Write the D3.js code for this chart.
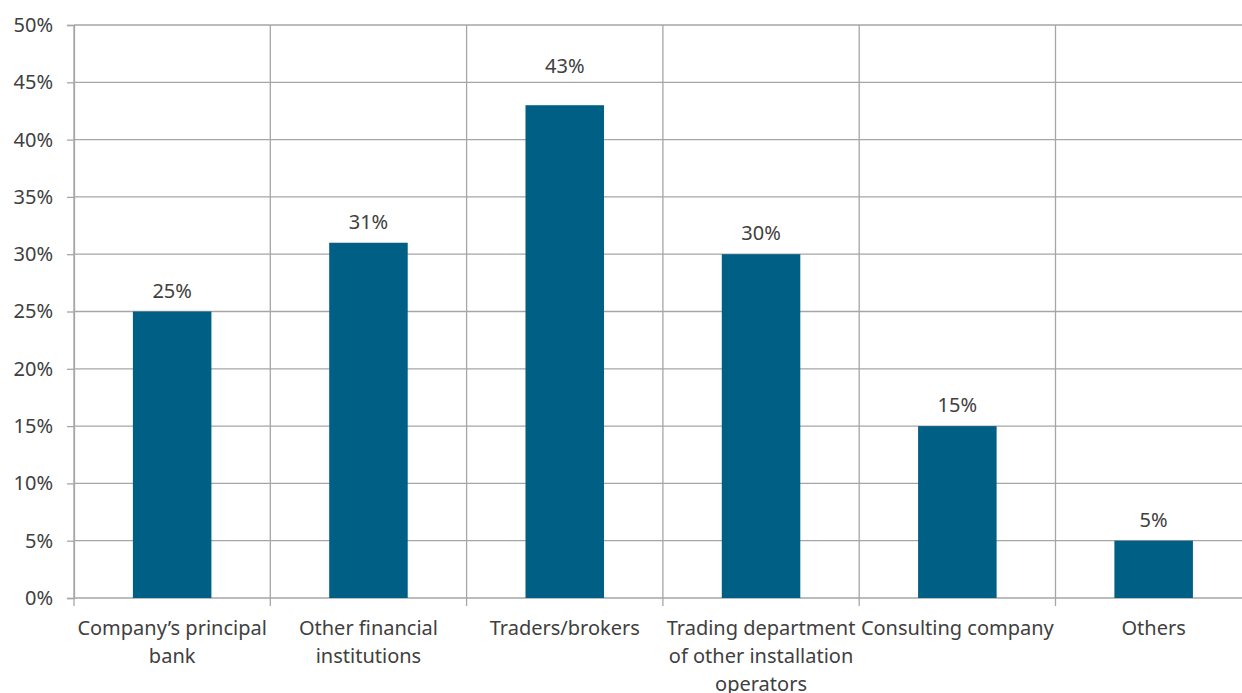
<!DOCTYPE html>
<html>
<head>
<meta charset="utf-8">
<script src="https://cdn.jsdelivr.net/npm/d3@7"></script>
<style>
  html, body { margin: 0; padding: 0; background: #fff; }
  svg { display: block; }
  text { font-family: "Noto Sans", sans-serif; fill: #404040; }
</style>
</head>
<body>
<svg id="chart" width="1242" height="693"></svg>
<script>
const categories = [
  "Company’s principal\nbank",
  "Other financial\ninstitutions",
  "Traders/brokers",
  "Trading department\nof other installation\noperators",
  "Consulting company",
  "Others"
];
const values = [25, 31, 43, 30, 15, 5];
const yTicks = [0, 5, 10, 15, 20, 25, 30, 35, 40, 45, 50];

(function () {
const svg = d3.select("#chart");
const W = 1242;
const mLeft = 74, mTop = 25, mBottom = 598;
const step = 196.3;
const mRight = mLeft + step * categories.length;

const x = d3.scaleBand().domain(categories).range([mLeft, mRight]).paddingInner(0).paddingOuter(0);
const y = d3.scaleLinear().domain([0, 50]).range([mBottom, mTop]);

const gridColor = "#a6a6a6";

// horizontal gridlines
svg.append("g").selectAll("line").data(yTicks).join("line")
  .attr("x1", mLeft).attr("x2", W + 20)
  .attr("y1", d => y(d)).attr("y2", d => y(d))
  .attr("stroke", gridColor).attr("stroke-width", 1.3);

// vertical gridlines at category boundaries
const boundaries = categories.map(c => x(c)).concat([mRight]);
svg.append("g").selectAll("line").data(boundaries).join("line")
  .attr("x1", d => d).attr("x2", d => d)
  .attr("y1", mTop).attr("y2", mBottom + 8)
  .attr("stroke", gridColor).attr("stroke-width", 1.3);

// y axis
const yAxis = d3.axisLeft(y).tickValues(yTicks).tickFormat(d => d + "%").tickSize(7).tickPadding(14);
const gy = svg.append("g").attr("transform", `translate(${mLeft},0)`).call(yAxis);
gy.select(".domain").attr("stroke", gridColor).attr("stroke-width", 1.3);
gy.selectAll(".tick line").attr("stroke", gridColor).attr("stroke-width", 1.3);
gy.selectAll(".tick text").style("font-size", "20px").attr("fill", "#404040")
  .style("font-family", "'Noto Sans', sans-serif");

// bars
const barW = x.bandwidth() * 0.4;
svg.append("g").selectAll("rect").data(values).join("rect")
  .attr("x", (d, i) => x(categories[i]) + x.bandwidth() / 2 - barW / 2)
  .attr("y", d => y(d))
  .attr("width", barW)
  .attr("height", d => y(0) - y(d))
  .attr("fill", "#005f85");

// data labels: placed above the bar; if a gridline would cross the text, lift it above that gridline
function labelY(d) {
  let base = y(d) - 14;
  const capH = 15;
  yTicks.forEach(t => {
    const gy0 = y(t);
    if (gy0 < y(d) - 1 && gy0 > base - capH - 2 && gy0 < base + 2) {
      base = gy0 - 9;
    }
  });
  return base;
}
svg.append("g").selectAll("text").data(values).join("text")
  .attr("x", (d, i) => x(categories[i]) + x.bandwidth() / 2)
  .attr("y", d => labelY(d))
  .attr("text-anchor", "middle")
  .style("font-size", "20px")
  .text(d => d + "%");

// category labels
const gx = svg.append("g");
categories.forEach(c => {
  const lines = c.split("\n");
  const t = gx.append("text")
    .attr("text-anchor", "middle")
    .style("font-size", "20px");
  lines.forEach((ln, j) => {
    t.append("tspan")
      .attr("x", x(c) + x.bandwidth() / 2)
      .attr("y", 635 + j * 28)
      .text(ln);
  });
});
})();
</script>
</body>
</html>
